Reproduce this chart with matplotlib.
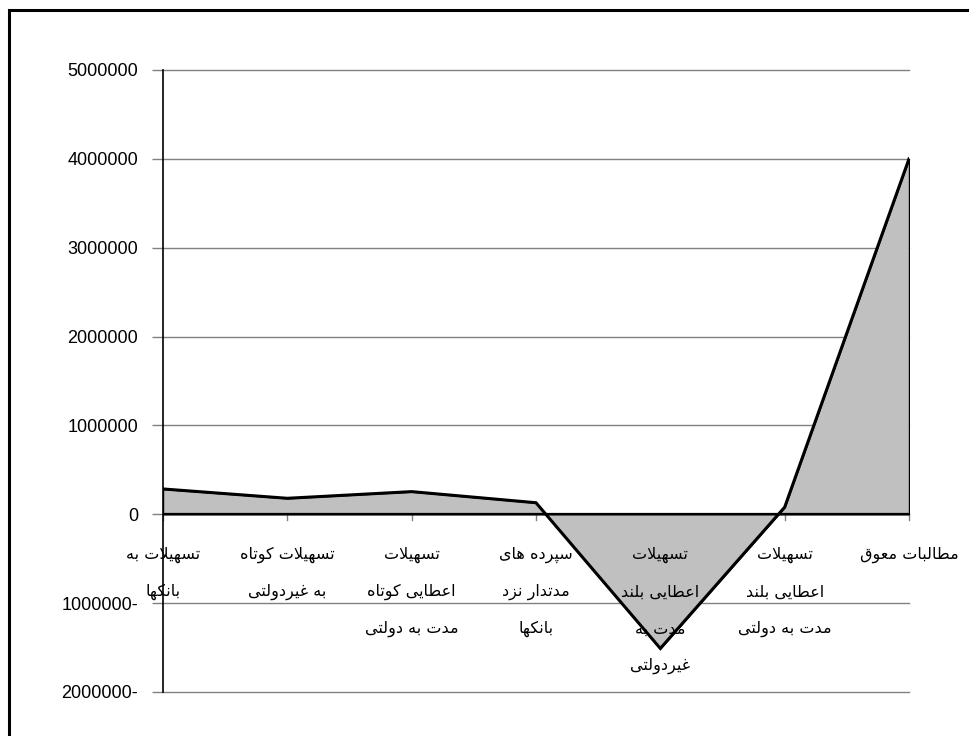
import matplotlib
matplotlib.use("Agg")
import matplotlib.pyplot as plt
from matplotlib.ticker import FuncFormatter
from matplotlib.patches import Rectangle
from matplotlib.transforms import blended_transform_factory

# chart data
categories = [
    "تسهیلات به\nبانکها",
    "تسهیلات کوتاه\nبه غیردولتی",
    "تسهیلات\nاعطایی کوتاه\nمدت به دولتی",
    "سپرده های\nمدتدار نزد\nبانکها",
    "تسهیلات\nاعطایی بلند\nمدت به\nغیردولتی",
    "تسهیلات\nاعطایی بلند\nمدت به دولتی",
    "مطالبات معوق",
]
values = [285000, 180000, 255000, 130000, -1510000, 80000, 4000000]
y_ticks = [-2000000, -1000000, 0, 1000000, 2000000, 3000000, 4000000, 5000000]

# --- tiny arabic/persian shaper (matplotlib does no shaping) ---
# forms: isolated, final, initial, medial
FORMS = {
    "ا": (0xFE8D, 0xFE8E), "د": (0xFEA9, 0xFEAA), "ر": (0xFEAD, 0xFEAE),
    "ز": (0xFEAF, 0xFEB0), "و": (0xFEED, 0xFEEE),
    "ب": (0xFE8F, 0xFE90, 0xFE91, 0xFE92), "ت": (0xFE95, 0xFE96, 0xFE97, 0xFE98),
    "س": (0xFEB1, 0xFEB2, 0xFEB3, 0xFEB4), "ط": (0xFEC1, 0xFEC2, 0xFEC3, 0xFEC4),
    "ع": (0xFEC9, 0xFECA, 0xFECB, 0xFECC), "غ": (0xFECD, 0xFECE, 0xFECF, 0xFED0),
    "ق": (0xFED5, 0xFED6, 0xFED7, 0xFED8), "ل": (0xFEDD, 0xFEDE, 0xFEDF, 0xFEE0),
    "م": (0xFEE1, 0xFEE2, 0xFEE3, 0xFEE4), "ن": (0xFEE5, 0xFEE6, 0xFEE7, 0xFEE8),
    "ه": (0xFEE9, 0xFEEA, 0xFEEB, 0xFEEC), "پ": (0xFB56, 0xFB57, 0xFB58, 0xFB59),
    "ک": (0xFB8E, 0xFB8F, 0xFB90, 0xFB91), "ی": (0xFBFC, 0xFBFD, 0xFBFE, 0xFBFF),
}


def shape_line(s):
    out = []
    i = 0
    n = len(s)
    while i < n:
        c = s[i]
        if c not in FORMS:
            out.append(c)
            i += 1
            continue
        prev = s[i - 1] if i > 0 else " "
        joins_prev = prev in FORMS and len(FORMS[prev]) == 4
        if c == "ل" and i + 1 < n and s[i + 1] == "ا":
            out.append(chr(0xFEFC if joins_prev else 0xFEFB))
            i += 2
            continue
        nxt = s[i + 1] if i + 1 < n else " "
        joins_next = len(FORMS[c]) == 4 and nxt in FORMS
        f = FORMS[c]
        if joins_prev and joins_next:
            out.append(chr(f[3]))
        elif joins_prev:
            out.append(chr(f[1]))
        elif joins_next:
            out.append(chr(f[2]))
        else:
            out.append(chr(f[0]))
        i += 1
    return "".join(out)[::-1]


def fa_fmt(v, pos):
    if v < 0:
        return "%d-" % abs(v)
    return "%d" % v


fig = plt.figure(figsize=(9.69, 7.36), dpi=100)
W, H = 969, 736
ax = fig.add_axes([163 / W, 1 - 692 / H, (909 - 163) / W, (692 - 70) / H])

x = list(range(len(values)))
ax.fill_between(x, 0, values, facecolor="#C0C0C0", edgecolor="black", linewidth=1.0, zorder=2)
ax.plot(x, values, color="black", linewidth=2.2, solid_joinstyle="miter", zorder=3)

ax.set_xlim(0, len(values) - 1)
ax.set_ylim(-2000000, 5000000)
ax.set_yticks(y_ticks)
ax.yaxis.set_major_formatter(FuncFormatter(fa_fmt))
ax.grid(axis="y", color="#808080", linewidth=1.0, zorder=0)
for gl in ax.get_ygridlines():
    gl.set_clip_on(False)
ax.axhline(0, color="black", linewidth=1.6, zorder=4)
for sp in ["top", "right", "bottom"]:
    ax.spines[sp].set_visible(False)
ax.spines["left"].set_linewidth(1.2)
ax.spines["left"].set_zorder(5)
ax.tick_params(axis="y", length=8, width=1, color="#808080", pad=10, labelsize=13)
for lab in ax.get_yticklabels():
    lab.set_fontfamily("Liberation Sans")

# x ticks down from the zero line
ax.set_xticks([])
for xi in x:
    ax.plot([xi, xi], [0, -60000], color="#808080", linewidth=1, zorder=1, clip_on=False)

# category labels, one text per line
trans = blended_transform_factory(ax.transData, fig.transFigure)
for xi, lab in zip(x, categories):
    for k, line in enumerate(lab.split("\n")):
        ypix = 555 + 37 * k
        ax.text(xi, 1 - ypix / H, shape_line(line), transform=trans, ha="center", va="center",
                fontsize=11.5, fontfamily="DejaVu Sans", zorder=6)

# outer frame of the chart (cut at right/bottom)
fig.patches.append(Rectangle((9 / W, -0.1), 1.2, 1 - 10 / H + 0.1, transform=fig.transFigure,
                             fill=False, edgecolor="black", linewidth=2.2))

fig.savefig("out.png", dpi=100)
